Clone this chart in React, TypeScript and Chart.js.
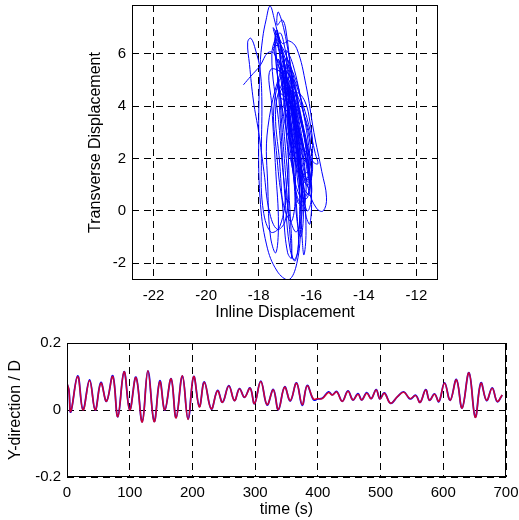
import React, { useEffect, useRef } from "react";
import { Chart, registerables } from "chart.js";

Chart.register(...registerables);

// ---------- data: top plot (trajectory) ----------
const trajectory: [number, number][] = [
  [-18.58, 4.82], [-18.3, 5.15], [-17.95, 5.55], [-17.65, 6.05], [-17.4, 6.0], [-17.15, 5.0], [-16.95, 3.0], [-16.85, 1.0], [-17.0, -0.4], [-17.3, -0.7], [-17.6, 0.0], [-17.8, 1.5], [-18.0, 3.0], [-18.2, 4.2],
  [-18.35, 5.6], [-18.42, 6.45], [-18.3, 6.6], [-18.12, 6.15], [-17.95, 5.4], [-17.88, 4.2], [-17.9, 2.0], [-17.85, 0.2], [-17.55, -0.8], [-17.2, -0.6], [-16.95, 0.8], [-16.85, 3.0], [-16.95, 5.2], [-17.2, 6.4], [-17.4, 7.3],
  [-17.57, 7.83], [-17.72, 7.3], [-17.85, 6.6], [-17.95, 5.5], [-18.0, 3.0], [-17.95, 0.5], [-17.7, -1.3], [-17.3, -2.3], [-16.87, -2.64], [-16.55, -2.0], [-16.4, -0.5], [-16.4, 1.5], [-16.6, 4.0], [-16.95, 6.5], [-17.25, 7.6],
  [-17.3, 7.1], [-17.1, 7.3], [-16.95, 6.8], [-16.7, 4.5], [-16.5, 2.0], [-16.45, -0.5], [-16.6, -1.9], [-16.8, -1.5], [-17.0, 0.5], [-17.15, 3.0], [-17.3, 5.5], [-17.35, 6.9],
  [-17.1, 6.4], [-16.85, 6.5], [-16.55, 6.2], [-16.2, 4.8], [-15.9, 3.0], [-15.6, 1.5], [-15.42, 0.5], [-15.55, 0.0], [-15.8, 0.1], [-16.1, 0.8], [-16.4, 2.5], [-16.75, 4.8], [-17.05, 6.0],
  [-17.45, 7.0], [-17.05, 5.5], [-16.6, 2.5], [-16.35, 0.0], [-16.6, -0.8], [-16.95, 0.5], [-17.25, 3.5], [-17.5, 6.0],
  [-17.2, 6.8], [-17.0, 6.2], [-16.7, 4.6], [-16.4, 2.8], [-16.2, 1.0], [-16.3, 0.2], [-16.55, 0.6], [-16.75, 2.2], [-16.95, 4.2], [-17.2, 6.0],
  [-17.35, 6.6], [-16.9, 5.8], [-16.45, 3.8], [-16.1, 1.8], [-16.0, 0.6], [-16.3, 0.9], [-16.7, 2.8], [-17.05, 4.9],
  [-17.3, 6.9], [-17.1, 6.0], [-16.8, 4.2], [-16.45, 2.0], [-16.3, 0.0], [-16.4, -1.0], [-16.55, -0.3], [-16.7, 1.8], [-16.9, 3.8], [-17.05, 5.2],
  [-17.25, 5.8], [-17.0, 5.0], [-16.75, 3.2], [-16.6, 1.0], [-16.75, -0.4], [-17.05, 0.2], [-17.3, 2.0], [-17.4, 4.2],
  [-16.9, 5.5], [-16.55, 4.9], [-16.3, 3.8], [-16.05, 2.6], [-15.95, 1.6], [-16.1, 1.1], [-16.3, 1.6], [-16.5, 2.8], [-16.7, 4.0], [-16.85, 5.0],
  [-17.55, 5.4], [-17.5, 4.0], [-17.35, 1.5], [-17.25, -0.5], [-17.35, -1.6], [-17.55, -1.0], [-17.65, 0.8], [-17.65, 3.2],
  [-17.0, 5.8], [-16.8, 5.6], [-16.5, 4.2], [-16.2, 2.5], [-16.0, 0.8], [-16.05, -0.5], [-16.2, -0.2], [-16.4, 1.2], [-16.6, 3.0], [-16.85, 4.8],
  [-17.45, 6.2], [-17.2, 6.3], [-16.9, 5.0], [-16.55, 3.5], [-16.25, 2.2], [-16.1, 1.4], [-16.25, 1.2], [-16.55, 2.3], [-16.85, 3.8], [-17.15, 5.2],
  [-17.15, 6.2], [-16.95, 5.0], [-16.6, 3.0], [-16.3, 1.0], [-16.2, -0.8], [-16.28, -1.68], [-16.35, -1.0], [-16.45, 1.0], [-16.55, 3.0], [-16.7, 4.5], [-16.9, 5.3],
  [-17.1, 4.6], [-16.75, 4.4], [-16.4, 3.4], [-16.15, 2.4], [-16.1, 1.6], [-16.35, 1.4], [-16.65, 2.2], [-16.9, 3.4],
  [-16.7, 5.0], [-16.4, 4.3], [-16.1, 3.3], [-15.85, 2.2], [-15.75, 1.8], [-15.95, 1.9], [-16.2, 2.6], [-16.45, 3.6], [-16.7, 4.6],
  [-17.05, 4.0], [-16.7, 3.6], [-16.35, 2.5], [-16.1, 1.4], [-16.15, 0.5], [-16.45, 0.6], [-16.75, 1.8], [-16.95, 3.0],
  [-16.95, 5.6], [-16.75, 5.2], [-16.4, 3.5], [-16.15, 2.0], [-16.0, 0.5], [-16.15, 0.0], [-16.35, 0.8], [-16.55, 2.5], [-16.75, 4.0],
  [-17.2, 4.4], [-16.95, 4.8], [-16.6, 4.2], [-16.25, 3.0], [-16.05, 1.9], [-16.0, 1.2], [-16.25, 1.3], [-16.55, 2.3], [-16.85, 3.5],
  [-16.55, 4.5], [-16.25, 4.2], [-16.05, 3.4], [-15.95, 2.5], [-16.05, 1.8], [-16.3, 2.0], [-16.5, 2.9], [-16.7, 3.9],
  [-16.95, 6.1], [-16.7, 5.6], [-16.35, 4.0], [-16.1, 2.5], [-16.0, 1.2], [-16.2, 0.6], [-16.5, 1.4], [-16.75, 3.0], [-16.95, 4.6],
  [-16.85, 4.7], [-16.6, 4.0], [-16.35, 2.8], [-16.15, 1.5], [-16.05, 0.9], [-16.2, 1.0], [-16.45, 2.0], [-16.65, 3.2], [-16.8, 4.2],
  [-17.3, 5.6], [-17.15, 4.2], [-16.95, 2.0], [-16.8, -0.2], [-16.75, -1.8], [-16.9, -1.6], [-17.05, -0.3], [-17.2, 1.8], [-17.35, 4.0],
  [-17.0, 5.0], [-16.8, 4.4], [-16.55, 3.0], [-16.35, 1.5], [-16.25, 0.3], [-16.4, 0.5], [-16.6, 1.8], [-16.8, 3.2], [-16.95, 4.3],
  [-17.1, 5.3], [-16.9, 4.0], [-16.7, 2.0], [-16.55, 0.0], [-16.5, -1.5], [-16.68, -1.87], [-16.8, -1.0], [-16.95, 1.0], [-17.1, 3.0], [-17.25, 5.0],
  [-17.25, 4.6], [-16.85, 4.2], [-16.45, 3.0], [-16.15, 1.8], [-16.1, 1.0], [-16.4, 1.3], [-16.75, 2.4], [-17.05, 3.6],
  [-17.4, 6.3], [-17.3, 6.8], [-17.05, 5.8], [-16.75, 3.8], [-16.5, 1.8], [-16.35, 0.5], [-16.5, 0.3], [-16.7, 1.5], [-16.9, 3.3], [-17.1, 5.0],
  [-17.0, 5.4], [-16.6, 4.6], [-16.25, 3.6], [-16.05, 2.8], [-16.1, 2.2], [-16.3, 2.4], [-16.5, 3.2], [-16.75, 4.2],
];
const inlineTicks = [-22, -20, -18, -16, -14, -12];
const transverseTicks = [-2, 0, 2, 4, 6];

// ---------- data: bottom plot (time series) ----------
const timeS = [
  0, 3, 6, 17, 25.5, 36, 45, 54, 63, 73, 81, 91, 100, 110, 120, 129, 139, 148, 156, 166,
  174, 184, 193, 202, 211, 219, 230, 240, 248, 258, 267, 275, 283, 292, 299, 309, 319, 329, 337, 347,
  356, 366, 375, 383, 393, 400, 407, 417, 423, 430, 439, 448, 456, 464, 470, 478, 485, 493, 499, 506,
  516, 527, 537, 547, 556, 563, 572, 578, 586, 593, 602, 611, 621, 630, 641, 651, 660, 669, 678, 686, 694,
];
const yRed = [
  0.08, 0.06, -0.005, 0.1, 0.0, 0.088, 0.0, 0.08, 0.026, 0.1, -0.02, 0.114, 0.0, 0.097, -0.036, 0.117, -0.035, 0.085, 0.0, 0.093,
  -0.024, 0.102, -0.028, 0.1, 0.009, 0.083, 0.003, 0.057, 0.023, 0.072, 0.028, 0.063, 0.038, 0.065, 0.019, 0.085, 0.016, 0.06, 0.001, 0.068,
  0.028, 0.08, 0.016, 0.072, 0.033, 0.034, 0.034, 0.052, 0.045, 0.054, 0.026, 0.056, 0.03, 0.047, 0.03, 0.05, 0.034, 0.06, 0.033, 0.05,
  0.02, 0.04, 0.053, 0.034, 0.043, 0.023, 0.06, 0.029, 0.047, 0.026, 0.08, 0.029, 0.09, 0.006, 0.111, -0.022, 0.08, 0.029, 0.065, 0.026, 0.045,
];
const yBlue = [
  0.078, 0.06, -0.006, 0.102, 0.001, 0.09, 0.0, 0.082, 0.026, 0.102, -0.02, 0.114, 0.001, 0.098, -0.035, 0.117, -0.034, 0.087, 0.0, 0.093,
  -0.023, 0.102, -0.027, 0.1, 0.01, 0.084, 0.003, 0.058, 0.023, 0.073, 0.028, 0.064, 0.038, 0.066, 0.019, 0.086, 0.015, 0.061, 0.001, 0.069,
  0.027, 0.081, 0.014, 0.073, 0.031, 0.033, 0.035, 0.054, 0.045, 0.055, 0.026, 0.057, 0.03, 0.049, 0.03, 0.052, 0.034, 0.061, 0.033, 0.051,
  0.02, 0.04, 0.054, 0.033, 0.044, 0.023, 0.061, 0.029, 0.048, 0.025, 0.081, 0.029, 0.091, 0.006, 0.111, -0.021, 0.081, 0.028, 0.066, 0.025, 0.045,
];
const timeTicks = [0, 100, 200, 300, 400, 500, 600, 700];
const yDirTicks = [-0.2, 0, 0.2];

const FONT = "'Liberation Sans', Arial, Helvetica, sans-serif";
const TICK_FS = 15;
const TITLE_FS = 16;

const boxPlugin = {
  id: "matlabBox",
  afterDraw(chart: any) {
    const { ctx, chartArea: a } = chart;
    ctx.save();
    ctx.strokeStyle = "#000";
    ctx.lineWidth = 1;
    ctx.setLineDash([]);
    ctx.strokeRect(
      Math.round(a.left) + 0.5,
      Math.round(a.top) + 0.5,
      Math.round(a.right - a.left) - 1,
      Math.round(a.bottom - a.top) - 1
    );
    ctx.restore();
  },
};

function makeAxis(
  ticks: number[],
  min: number,
  max: number,
  title: string,
  size: number,
  isX: boolean,
  titlePad: any
) {
  return {
    type: "linear",
    position: isX ? "bottom" : "left",
    min,
    max,
    afterBuildTicks: (s: any) => {
      s.ticks = ticks.map((v) => ({ value: v }));
    },
    afterFit: (s: any) => {
      if (isX) s.height = size;
      else s.width = size;
      s.paddingLeft = 0;
      s.paddingRight = 0;
      s.paddingTop = 0;
      s.paddingBottom = 0;
    },
    grid: { color: "#000", lineWidth: 1, drawTicks: false },
    border: { display: false, dash: [7, 5] },
    ticks: {
      color: "#000",
      font: { family: FONT, size: TICK_FS },
      padding: isX ? 7 : 6,
      maxRotation: 0,
      autoSkip: false,
      callback: (v: any) => String(v),
    },
    title: {
      display: true,
      text: title,
      color: "#000",
      font: { family: FONT, size: TITLE_FS },
      padding: titlePad,
    },
  };
}

export default function App() {
  const topRef = useRef<HTMLCanvasElement>(null);
  const botRef = useRef<HTMLCanvasElement>(null);

  useEffect(() => {
    const top = new Chart(topRef.current as HTMLCanvasElement, {
      type: "scatter",
      data: {
        datasets: [
          {
            data: trajectory.map(([x, y]) => ({ x, y })),
            showLine: true,
            borderColor: "#0000ff",
            borderWidth: 1,
            pointRadius: 0,
            tension: 0.4,
          } as any,
        ],
      },
      options: {
        responsive: false,
        animation: false,
        devicePixelRatio: 1,
        layout: { padding: { top: 5, right: 81, bottom: 8, left: 0 } },
        plugins: { legend: { display: false }, tooltip: { enabled: false } },
        scales: {
          x: makeAxis(inlineTicks, -22.82, -11.18, "Inline Displacement", 42, true, { top: 0, bottom: 0 }),
          y: makeAxis(transverseTicks, -2.64, 7.87, "Transverse Displacement", 132, false, { top: 86, bottom: 0 }),
        } as any,
      },
      plugins: [boxPlugin],
    });

    const bot = new Chart(botRef.current as HTMLCanvasElement, {
      type: "line",
      data: {
        datasets: [
          {
            data: timeS.map((t, i) => ({ x: t, y: yRed[i] })),
            borderColor: "rgba(255,0,0,0.8)",
            borderWidth: 1.5,
            pointRadius: 0,
            tension: 0.4,
            order: 0,
          },
          {
            data: timeS.map((t, i) => ({ x: t, y: yBlue[i] })),
            borderColor: "#0000ff",
            borderWidth: 1.8,
            pointRadius: 0,
            tension: 0.4,
            order: 1,
          },
        ],
      },
      options: {
        responsive: false,
        animation: false,
        devicePixelRatio: 1,
        layout: { padding: { top: 13, right: 13, bottom: 1, left: 0 } },
        plugins: { legend: { display: false }, tooltip: { enabled: false } },
        scales: {
          x: makeAxis(timeTicks, 0, 700, "time (s)", 42, true, { top: 0, bottom: 0 }),
          y: makeAxis(yDirTicks, -0.2, 0.2, "Y-direction / D", 67, false, { top: 6, bottom: 0 }),
        } as any,
      },
      plugins: [boxPlugin],
    });

    return () => {
      top.destroy();
      bot.destroy();
    };
  }, []);

  return (
    <div style={{ position: "absolute", left: 0, top: 0, width: 519, height: 520, background: "#fff" }}>
      <canvas ref={topRef} width={519} height={330} style={{ position: "absolute", left: 0, top: 0 }} />
      <canvas ref={botRef} width={519} height={190} style={{ position: "absolute", left: 0, top: 330 }} />
    </div>
  );
}
